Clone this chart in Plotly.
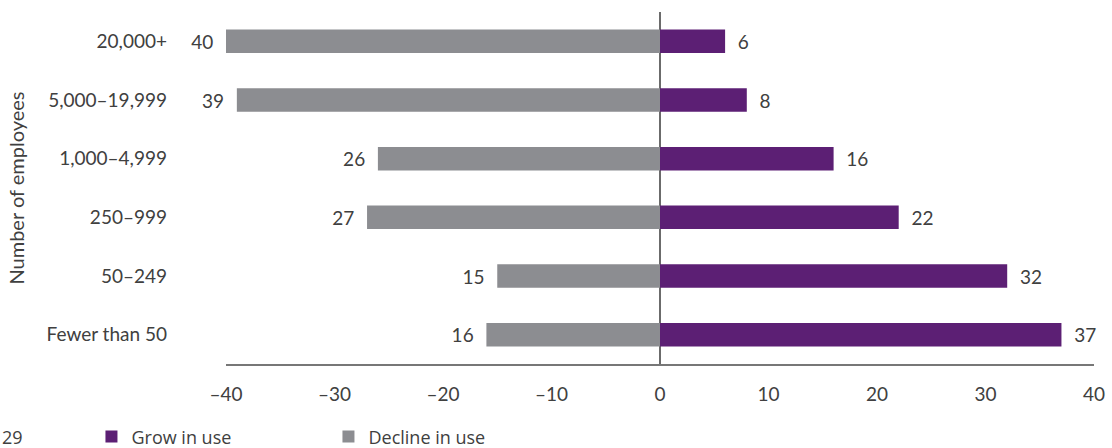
import plotly.graph_objects as go

categories = ["20,000+", "5,000–19,999", "1,000–4,999", "250–999", "50–249", "Fewer than 50"]
grow = [6, 8, 16, 22, 32, 37]
decline = [40, 39, 26, 27, 15, 16]
x_ticks = [-40, -30, -20, -10, 0, 10, 20, 30, 40]
x_tick_text = ["–40", "–30", "–20", "–10", "0", "10", "20", "30", "40"]

PURPLE = "#5c1f74"
GRAY = "#8c8d91"
TEXT = "#404040"
FONT = "Lato, 'Open Sans', sans-serif"
LEG_FONT = "'Open Sans', sans-serif"

fig = go.Figure()
fig.add_trace(go.Bar(
    y=categories, x=grow, orientation="h", name="Grow in use",
    marker=dict(color=PURPLE, line=dict(width=0)), width=0.4,
    text=["  " + str(v) for v in grow], textposition="outside",
    textfont=dict(size=19, color=TEXT, family=FONT), cliponaxis=False,
))
fig.add_trace(go.Bar(
    y=categories, x=[-v for v in decline], orientation="h", name="Decline in use",
    marker=dict(color=GRAY, line=dict(width=0)), width=0.4,
    text=[str(v) + "  " for v in decline], textposition="outside",
    textfont=dict(size=19, color=TEXT, family=FONT), cliponaxis=False,
))

fig.update_layout(
    width=1112, height=448,
    margin=dict(l=226, r=18, t=12, b=84, autoexpand=False),
    paper_bgcolor="white", plot_bgcolor="white",
    barmode="relative",
    showlegend=True,
    font=dict(family=FONT, size=19, color=TEXT),
    legend=dict(
        orientation="h", x=-0.155, y=-0.207, xanchor="left", yanchor="middle",
        font=dict(family=LEG_FONT, size=18, color=TEXT),
        entrywidth=192, entrywidthmode="pixels", itemwidth=30,
        traceorder="normal",
    ),
    xaxis=dict(
        range=[-40, 40], tickvals=x_ticks, ticktext=x_tick_text,
        showgrid=False, zeroline=True, zerolinecolor="#6b6b6b", zerolinewidth=1.5,
        showline=True, linecolor="#777777", linewidth=1.5,
        ticks="", tickfont=dict(size=19, color=TEXT, family=FONT),
        ticklabelstandoff=12, automargin=False,
    ),
    yaxis=dict(
        categoryorder="array", categoryarray=categories[::-1],
        range=[-0.5, 5.5], showgrid=False, zeroline=False, showline=False,
        ticks="", tickfont=dict(size=19, color=TEXT, family=FONT),
        ticklabelstandoff=58, automargin=False,
        title=dict(text="Number of employees", font=dict(size=20, color=TEXT, family=FONT), standoff=16),
    ),
    annotations=[dict(
        text="29", xref="paper", yref="paper", x=-226 / 868, y=-0.207,
        xanchor="left", yanchor="middle", showarrow=False,
        font=dict(size=18, color=TEXT, family=LEG_FONT),
    )],
)

fig.write_html("out.html", config={"displayModeBar": False},
               post_script="document.body.style.margin='0';")
